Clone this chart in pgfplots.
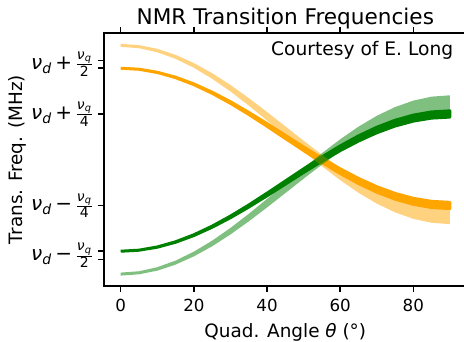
\documentclass[border=0pt]{standalone}
\usepackage{fontspec}
\setmainfont{DejaVu Sans}
\usepackage{pgfplots}
\pgfplotsset{compat=1.18}

\definecolor{mplorange}{HTML}{FFA500}
\definecolor{mplgreen}{HTML}{008000}

% nu_d and nu_q/n as set on the frequency axis
\newcommand{\nud}{\textit{ν}\textsubscript{\textit{d}}}
\newcommand{\qfrac}[1]{\ensuremath{\frac{\hbox{\fontsize{10.5}{10.5}\selectfont\textit{ν}\textsubscript{\textit{q}}}}{\hbox{\fontsize{10.5}{10.5}\selectfont #1}}}}

\begin{document}
\begin{tikzpicture}
\begin{axis}[
  scale only axis,
  width=271.95pt, height=189.75pt,
  xmin=-4.57, xmax=94.57,
  ymin=-2.76, ymax=2.77,
  axis line style={line width=1.1pt},
  every tick/.style={black, line width=1.1pt},
  tick align=outside,
  major tick length=4.5pt,
  xtick={0,20,40,60,80},
  ytick={-2.18,-2,-1,1,2,2.17},
  yticklabels={{},{},{\nud\,−\,\qfrac{4}},{\nud\,+\,\qfrac{4}},{},{}},
  extra y ticks={-2.09,2.09},
  extra y tick labels={{\nud\,−\,\qfrac{2}},{\nud\,+\,\qfrac{2}}},
  extra y tick style={major tick style={draw=none}},
  /pgf/number format/assume math mode=true,
  ticklabel style={font=\fontsize{12.5}{15}\selectfont},
  xticklabel style={yshift=-1.5pt},
  yticklabel style={font=\fontsize{15}{17}\selectfont},
  title={NMR Transition Frequencies},
  title style={font=\fontsize{16.2}{19}\selectfont, at={(axis description cs:0.5,1)}, anchor=base, yshift=0.6pt},
  xlabel={Quad. Angle \textit{θ} (°)},
  xlabel style={font=\fontsize{13.8}{16}\selectfont, at={(axis description cs:0.5,0)}, anchor=base, yshift=-39pt},
  ylabel={Trans. Freq. (MHz)},
  ylabel style={font=\fontsize{13.8}{16}\selectfont, at={(axis description cs:-0.24,0.5)}, anchor=center},
  clip=true,
]
\coordinate (bl) at (rel axis cs:0,0);
\coordinate (tr) at (rel axis cs:1,1);

% upper transition, small quadrupole splitting
\addplot[draw=mplorange, fill=mplorange, line width=2.25pt, line join=round, line cap=butt] coordinates {
 (0,2.000) (5,1.978) (10,1.912) (15,1.804) (20,1.657) (25,1.476) (30,1.267) (35,1.035) (40,0.789) (45,0.534)
 (50,0.279) (55,0.033) (60,-0.199) (65,-0.408) (70,-0.589) (75,-0.736) (80,-0.844) (85,-0.910) (90,-0.932)
 (90,-1.068) (85,-1.045) (80,-0.975) (75,-0.862) (70,-0.709) (65,-0.520) (60,-0.301) (55,-0.059) (50,0.200)
 (45,0.466) (40,0.732) (35,0.991) (30,1.233) (25,1.452) (20,1.641) (15,1.794) (10,1.907) (5,1.977) (0,2.000)
};
% lower transition, small quadrupole splitting
\addplot[draw=mplgreen, fill=mplgreen, line width=2.25pt, line join=round, line cap=butt] coordinates {
 (0,-2.000) (5,-1.977) (10,-1.907) (15,-1.794) (20,-1.641) (25,-1.452) (30,-1.233) (35,-0.991) (40,-0.732) (45,-0.466)
 (50,-0.200) (55,0.059) (60,0.301) (65,0.520) (70,0.709) (75,0.862) (80,0.975) (85,1.045) (90,1.068)
 (90,0.932) (85,0.910) (80,0.844) (75,0.736) (70,0.589) (65,0.408) (60,0.199) (55,-0.033) (50,-0.279)
 (45,-0.534) (40,-0.789) (35,-1.035) (30,-1.267) (25,-1.476) (20,-1.657) (15,-1.804) (10,-1.912) (5,-1.978) (0,-2.000)
};
% upper transition, larger quadrupole splitting (band outline including its edge stroke)
\addplot[draw=none, fill=mplorange, fill opacity=0.5] coordinates {
 (0,2.533) (5,2.505) (10,2.425) (15,2.292) (20,2.113) (25,1.892) (30,1.634) (35,1.348) (40,1.044) (45,0.730)
 (50,0.415) (55,0.109) (60,-0.179) (65,-0.439) (70,-0.664) (75,-0.847) (80,-0.982) (85,-1.064) (90,-1.092)
 (90,-1.408) (85,-1.379) (80,-1.292) (75,-1.150) (70,-0.959) (65,-0.722) (60,-0.446) (55,-0.141) (50,0.184)
 (45,0.521) (40,0.857) (35,1.184) (30,1.491) (25,1.769) (20,2.010) (15,2.205) (10,2.349) (5,2.438) (0,2.467)
};
% lower transition, larger quadrupole splitting
\addplot[draw=none, fill=mplgreen, fill opacity=0.5] coordinates {
 (0,-2.467) (5,-2.438) (10,-2.349) (15,-2.205) (20,-2.010) (25,-1.769) (30,-1.491) (35,-1.184) (40,-0.857) (45,-0.521)
 (50,-0.184) (55,0.141) (60,0.446) (65,0.722) (70,0.959) (75,1.150) (80,1.292) (85,1.379) (90,1.408)
 (90,1.092) (85,1.064) (80,0.982) (75,0.847) (70,0.664) (65,0.439) (60,0.179) (55,-0.109) (50,-0.415)
 (45,-0.730) (40,-1.044) (35,-1.348) (30,-1.634) (25,-1.892) (20,-2.113) (15,-2.292) (10,-2.425) (5,-2.505) (0,-2.533)
};

\node[font=\fontsize{14}{16}\selectfont, anchor=base east] at ([xshift=-6.45pt, yshift=-17.25pt]rel axis cs:1,1) {Courtesy of E. Long};
\end{axis}
\pgfresetboundingbox
\useasboundingbox ([xshift=-78pt, yshift=-42pt]bl) rectangle ([xshift=-1.95pt, yshift=24.75pt]tr);
\end{tikzpicture}
\end{document}
